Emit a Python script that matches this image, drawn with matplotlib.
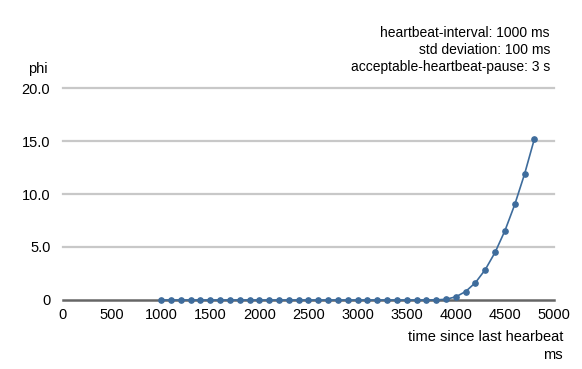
import numpy as np
import matplotlib.pyplot as plt

plt.rcParams['font.family'] = ['Liberation Sans', 'DejaVu Sans']

# time since last heartbeat (ms) and phi values
t = [1000, 1100, 1200, 1300, 1400, 1500, 1600, 1700, 1800, 1900,
     2000, 2100, 2200, 2300, 2400, 2500, 2600, 2700, 2800, 2900,
     3000, 3100, 3200, 3300, 3400, 3500, 3600, 3700, 3800, 3900,
     4000, 4100, 4200, 4300, 4400, 4500, 4600, 4700, 4800]
phi = [0.0] * 27 + [0.0, 0.01, 0.07,
       0.30, 0.80, 1.64, 2.87, 4.50, 6.54, 9.01, 11.89, 15.21]

xticks = [0, 500, 1000, 1500, 2000, 2500, 3000, 3500, 4000, 4500, 5000]
yticks = [0, 5, 10, 15, 20]
ytick_labels = ["0", "5.0", "10.0", "15.0", "20.0"]

fig = plt.figure(figsize=(5.82, 3.69), dpi=100)
ax = fig.add_axes([0.108, 0.187, 0.844, 0.5745])

for y in yticks[1:]:
    ax.axhline(y, color='#c8c8c8', lw=1.6, zorder=1, clip_on=False)
ax.axhline(0, color='#666666', lw=1.8, zorder=2, clip_on=False)

ax.plot(t, phi, '-o', color='#3e6c9c', lw=1.2, ms=3.8, zorder=3, clip_on=False)

ax.set_xlim(0, 5000)
ax.set_ylim(0, 20)
ax.set_xticks(xticks)
ax.set_yticks(yticks)
ax.set_yticklabels(ytick_labels)
ax.tick_params(length=0, labelsize=10.5, pad=6)
ax.tick_params(axis='y', pad=9)
for s in ax.spines.values():
    s.set_visible(False)

fig.text(48 / 582, 1 - 69 / 369, "phi", ha='right', va='center', fontsize=10.5)
fig.text(563 / 582, 1 - 337 / 369, "time since last hearbeat", ha='right', va='center', fontsize=10.5)
fig.text(563 / 582, 1 - 355 / 369, "ms", ha='right', va='center', fontsize=10.5)

fig.text(550 / 582, 1 - 33 / 369, "heartbeat-interval: 1000 ms", ha='right', va='center', fontsize=10)
fig.text(550 / 582, 1 - 50 / 369, "std deviation: 100 ms", ha='right', va='center', fontsize=10)
fig.text(550 / 582, 1 - 67 / 369, "acceptable-heartbeat-pause: 3 s", ha='right', va='center', fontsize=10)

plt.savefig('out.png', dpi=100)
